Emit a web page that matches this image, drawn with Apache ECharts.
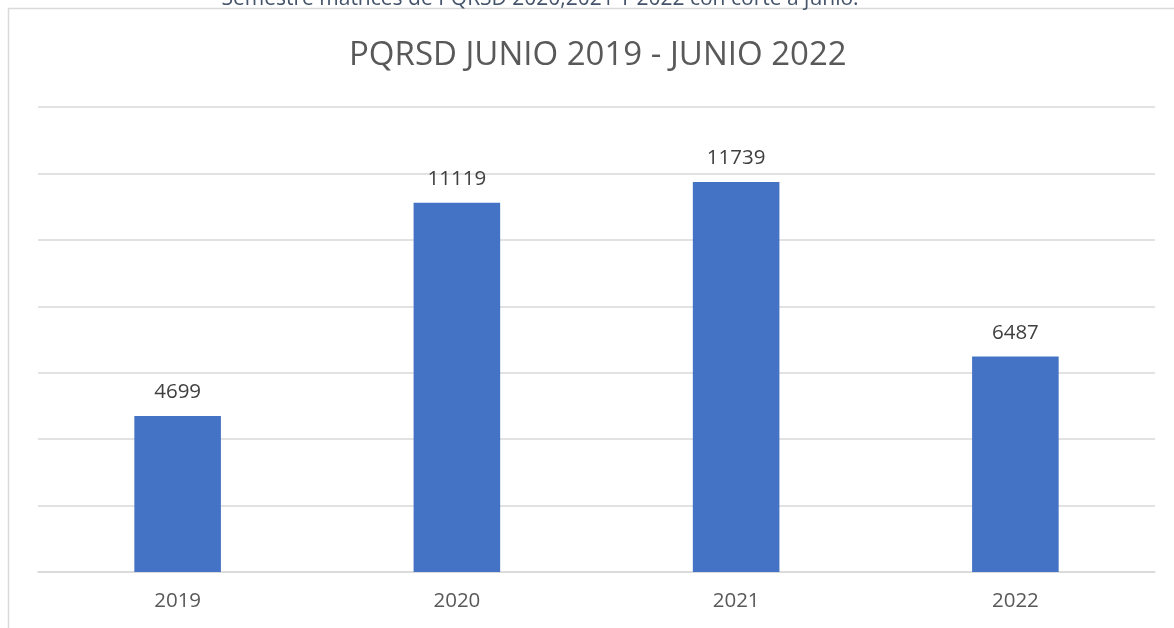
<!DOCTYPE html>
<html>
<head>
<meta charset="utf-8">
<script src="https://cdn.jsdelivr.net/npm/echarts@6/dist/echarts.min.js"></script>
<style>html,body{margin:0;padding:0;background:#fff;}#c{width:1174px;height:628px;}</style>
</head>
<body>
<div id="c"></div>
<script>
const categories = ['2019', '2020', '2021', '2022'];
const values = [4699, 11119, 11739, 6487];
const titleText = 'PQRSD JUNIO 2019 - JUNIO 2022';
const topText = 'Semestre mathces de PQRSD 2020,2021 Y 2022 con corte a junio.';

const chart = echarts.init(document.getElementById('c'), null, {renderer: 'canvas'});
chart.setOption({
  animation: false,
  backgroundColor: '#fff',
  title: {
    text: titleText,
    left: 349,
    top: 39,
    padding: 0,
    textStyle: {fontFamily: 'Open Sans', fontWeight: 'normal', fontSize: 33, color: '#595959'}
  },
  graphic: [
    {type: 'rect', shape: {x: 8.5, y: 8.5, width: 1300, height: 800}, style: {fill: 'none', stroke: '#d9d9d9', lineWidth: 1.5}, z: -1},
    {type: 'text', x: 540, y: -11, style: {text: topText, fontFamily: 'Open Sans', fontSize: 21, fill: '#44546a', align: 'center'}, z: 10}
  ],
  grid: {left: 38, right: 19, top: 107, bottom: 56, containLabel: false},
  xAxis: {
    type: 'category',
    data: categories,
    axisLine: {lineStyle: {color: '#d9d9d9', width: 1.5}},
    axisTick: {show: false},
    axisLabel: {fontFamily: 'Open Sans', fontSize: 20.5, color: '#595959', margin: 19}
  },
  yAxis: {
    type: 'value',
    min: 0, max: 14000, interval: 2000,
    axisLine: {show: false},
    axisTick: {show: false},
    axisLabel: {show: false},
    splitLine: {lineStyle: {color: '#d9d9d9', width: 1.5}}
  },
  series: [{
    type: 'bar',
    data: values,
    barWidth: '31%',
    itemStyle: {color: '#4472c4'},
    label: {show: true, position: 'top', distance: 13, fontFamily: 'Open Sans', fontSize: 20.5, color: '#404040'}
  }]
});
</script>
</body>
</html>
